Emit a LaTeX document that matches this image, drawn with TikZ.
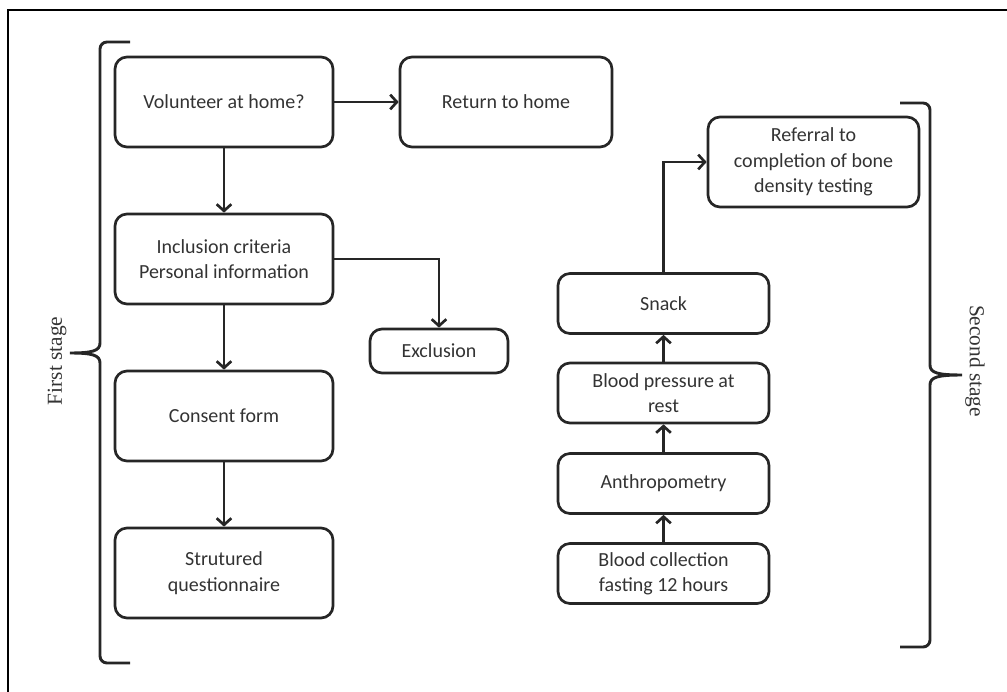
\documentclass[tikz,border=0pt]{standalone}
\usepackage{fontspec}
\setmainfont{Liberation Serif}
\newfontfamily\boxfont{Carlito}
\usetikzlibrary{arrows.meta}

\tikzset{
  stepbox/.style={draw=black!85, line width=2pt, rounded corners=9pt, align=center,
    text=black!80, font=\boxfont\fontsize{15}{19}\selectfont, inner sep=2pt},
  bigbox/.style={stepbox, minimum width=163.5pt, minimum height=67.5pt},
  smallbox/.style={stepbox, minimum width=158.25pt, minimum height=45pt},
  flow/.style={draw=black!85, line width=2pt, -{Straight Barb[length=5pt,width=11pt,line width=2pt]}},
  brace/.style={draw=black!85, line width=2.2pt},
  stagelabel/.style={text=black!80, font=\fontsize{16}{18}\selectfont}
}

\begin{document}
\begin{tikzpicture}[x=0.75pt, y=-0.75pt]
  \useasboundingbox (0,0) rectangle (1007,692);

  % frame
  \draw[line width=1.2pt] (8,692) -- (8,10) -- (1007,10);

  % first stage
  \node[bigbox] (vol) at (224,102) {Volunteer at home?};
  \node[stepbox, minimum width=159pt, minimum height=67.5pt] (ret) at (506,102) {Return to home};
  \node[bigbox] (incl) at (224,259) {Inclusion criteria\\Personal information};
  \node[stepbox, minimum width=103.5pt, minimum height=33pt] (excl) at (439,351) {Exclusion};
  \node[bigbox] (cons) at (224,416) {Consent form};
  \node[bigbox] (strut) at (224,573) {Strutured\\questionnaire};

  \draw[flow] (vol) -- (ret);
  \draw[flow] (vol) -- (incl);
  \draw[flow] (incl.east) -| (excl.north);
  \draw[flow] (incl) -- (cons);
  \draw[flow] (cons) -- (strut);

  % second stage
  \node[smallbox, minimum height=67.5pt] (refer) at (813.5,162) {Referral to\\completion of bone\\density testing};
  \node[smallbox] (snack) at (663.5,303.5) {Snack};
  \node[smallbox] (bp) at (663.5,393) {Blood pressure at\\rest};
  \node[smallbox] (anthro) at (663.5,483.5) {Anthropometry};
  \node[smallbox] (blood) at (663.5,573.5) {Blood collection\\fasting 12 hours};

  \draw[flow] (blood) -- (anthro);
  \draw[flow] (anthro) -- (bp);
  \draw[flow] (bp) -- (snack);
  \draw[flow] (snack.north) |- (refer.west);

  % braces
  \draw[brace] (130,42) -- (107,42) to[out=180,in=90] (100,49) -- (100,343)
    .. controls (100,351) and (92,353) .. (70,353)
    .. controls (92,353) and (100,355) .. (100,363) -- (100,656)
    to[out=-90,in=180] (107,663) -- (130,663);
  \node[stagelabel, rotate=90] (first) at (57,361) {First stage};

  \draw[brace] (900,103) -- (923,103) to[out=0,in=90] (930,110) -- (930,365)
    .. controls (930,373) and (938,375) .. (962,375)
    .. controls (938,375) and (930,377) .. (930,385) -- (930,640)
    to[out=-90,in=0] (923,647) -- (900,647);
  \node[stagelabel, rotate=-90] (second) at (975,361) {Second stage};
\end{tikzpicture}
\end{document}
